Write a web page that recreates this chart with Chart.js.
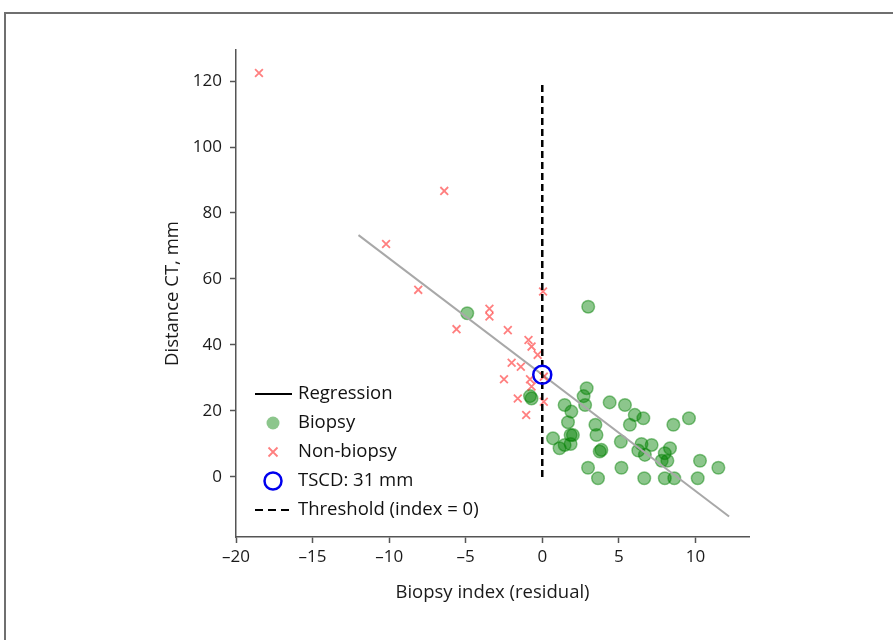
<!DOCTYPE html>
<html>
<head>
<meta charset="utf-8">
<script src="https://cdn.jsdelivr.net/npm/chart.js@4"></script>
<style>
  html, body { margin: 0; padding: 0; background: #fff; }
  #wrap { position: relative; width: 893px; height: 640px; overflow: hidden; }
  #frame {
    position: absolute; left: 4px; top: 12px; width: 1000px; height: 800px;
    border-left: 2px solid #6f6f6f; border-top: 2px solid #6f6f6f;
  }
  canvas { position: absolute; left: 0; top: 0; }
</style>
</head>
<body>
<div id="wrap">
  <div id="frame"></div>
  <canvas id="chart" width="893" height="640"></canvas>
</div>
<script>
const xTicks = [-20, -15, -10, -5, 0, 5, 10];
const yTicks = [0, 20, 40, 60, 80, 100, 120];

// Biopsy (green circles)
const bioX = [-4.9, -0.8, -0.7, 3.0, 2.9, 2.7, 2.8, 4.4, 5.4, 1.46, 1.9, 1.68, 0.7, 1.13, 1.85,
  2.0, 1.46, 1.85, 3.47, 3.54, 3.75, 3.86, 2.99, 3.64, 5.13, 5.17, 6.04, 6.6, 5.72, 6.48,
  7.14, 6.27, 6.7, 6.66, 8.56, 9.58, 8.34, 8.0, 7.8, 8.17, 8.0, 8.62, 10.3, 10.15, 11.5];
const bioY = [49.6, 24.5, 23.8, 51.6, 26.9, 24.5, 21.8, 22.6, 21.8, 21.8, 19.8, 16.6, 11.7, 8.7, 12.7,
  12.7, 9.7, 10.0, 15.8, 12.7, 7.7, 8.2, 2.8, -0.4, 10.7, 2.8, 18.8, 17.8, 15.8, 10.0,
  9.7, 8.0, 6.7, -0.4, 15.8, 17.8, 8.7, 7.2, 4.9, 4.9, -0.4, -0.4, 4.9, -0.4, 2.8];

// Non-biopsy (red crosses)
const nonX = [-18.5, -6.4, -10.2, -8.1, 0.05, -5.6, -3.45, -3.45, -2.25, -0.9, -0.7, -0.3,
  -2.0, -1.4, -2.5, -0.8, -0.7, 0.1, -1.6, 0.1, -1.05];
const nonY = [122.4, 86.7, 70.6, 56.7, 56.2, 44.8, 51, 48.6, 44.5, 41.5, 39.5, 37,
  34.6, 33.4, 29.6, 29.6, 27.4, 30.4, 23.8, 22.8, 18.8];

// regression line end points and TSCD point
const regX = [-12, 12.2];
const regY = [73.3, -12.0];
const tscdX = [0];
const tscdY = [31];
const threshX = [0, 0];
const threshY = [0, 120];

const pts = (xs, ys) => xs.map((x, i) => ({ x: x, y: ys[i] }));
const FONT = "'Open Sans', 'Noto Sans', sans-serif";
const dash = (v) => (v < 0 ? "\u2013" + Math.abs(v) : String(v));

const legendItems = [
  { text: "Regression", kind: "line" },
  { text: "Biopsy", kind: "bio" },
  { text: "Non-biopsy", kind: "cross" },
  { text: "TSCD: 31 mm", kind: "ring" },
  { text: "Threshold (index = 0)", kind: "dash" },
];

const insideLegend = {
  id: "insideLegend",
  afterDraw(chart) {
    const ctx = chart.ctx;
    const a = chart.chartArea;
    const x0 = a.left + 19, x1 = a.left + 56, cx = a.left + 37, tx = a.left + 62;
    ctx.save();
    ctx.font = "18.5px " + FONT;
    ctx.textBaseline = "middle";
    legendItems.forEach((it, i) => {
      const y = a.bottom - 143 + i * 29;
      ctx.setLineDash([]);
      if (it.kind === "line" || it.kind === "dash") {
        ctx.strokeStyle = "#000";
        ctx.lineWidth = 2;
        if (it.kind === "dash") ctx.setLineDash([8, 5]);
        ctx.beginPath(); ctx.moveTo(x0, y); ctx.lineTo(x1, y); ctx.stroke();
      } else if (it.kind === "bio") {
        ctx.fillStyle = "rgba(0,128,0,0.45)";
        ctx.beginPath(); ctx.arc(cx, y, 6.5, 0, Math.PI * 2); ctx.fill();
      } else if (it.kind === "cross") {
        ctx.strokeStyle = "rgba(255,0,0,0.5)";
        ctx.lineWidth = 1.8;
        ctx.beginPath();
        ctx.moveTo(cx - 4.5, y - 4.5); ctx.lineTo(cx + 4.5, y + 4.5);
        ctx.moveTo(cx + 4.5, y - 4.5); ctx.lineTo(cx - 4.5, y + 4.5);
        ctx.stroke();
      } else if (it.kind === "ring") {
        ctx.strokeStyle = "#0000ee";
        ctx.lineWidth = 2.5;
        ctx.beginPath(); ctx.arc(cx, y, 8.5, 0, Math.PI * 2); ctx.stroke();
      }
      ctx.fillStyle = "#111";
      ctx.fillText(it.text, tx, y);
    });
    ctx.restore();
  },
};

new Chart("chart", {
  type: "scatter",
  data: {
    datasets: [
      {
        label: "TSCD: 31 mm",
        data: pts(tscdX, tscdY),
        pointStyle: "circle",
        pointRadius: 9,
        borderColor: "#0000ee",
        borderWidth: 2.5,
        backgroundColor: "rgba(0,0,0,0)",
        order: 0,
      },
      {
        label: "Threshold (index = 0)",
        type: "line",
        data: pts(threshX, threshY),
        borderColor: "#000",
        borderWidth: 2.5,
        borderDash: [7, 4],
        pointRadius: 0,
        fill: false,
        order: 1,
      },
      {
        label: "Non-biopsy",
        data: pts(nonX, nonY),
        pointStyle: "crossRot",
        pointRadius: 5.5,
        borderColor: "rgba(255,0,0,0.5)",
        borderWidth: 1.8,
        backgroundColor: "rgba(255,0,0,0.5)",
        order: 2,
      },
      {
        label: "Regression",
        type: "line",
        data: pts(regX, regY),
        borderColor: "#a8a8a8",
        borderWidth: 2,
        pointRadius: 0,
        fill: false,
        order: 3,
      },
      {
        label: "Biopsy",
        data: pts(bioX, bioY),
        pointStyle: "circle",
        pointRadius: 6.3,
        borderColor: "rgba(0,128,0,0.45)",
        borderWidth: 1.5,
        backgroundColor: "rgba(0,128,0,0.45)",
        order: 4,
      },
    ],
  },
  options: {
    responsive: false,
    devicePixelRatio: 1,
    animation: false,
    layout: { padding: { left: 158, top: 50, right: 144, bottom: 32 } },
    plugins: {
      legend: { display: false },
      tooltip: { enabled: false },
    },
    scales: {
      x: {
        type: "linear",
        min: -20,
        max: 13.5,
        afterFit: (s) => { s.height = 71; },
        afterBuildTicks: (s) => { s.ticks = xTicks.map((v) => ({ value: v })); },
        grid: { drawOnChartArea: false, tickLength: 6, color: "#555", tickWidth: 1.5 },
        border: { color: "#555", width: 1.5 },
        ticks: { color: "#1a1a1a", padding: 4, font: { family: FONT, size: 17 }, callback: dash },
        title: { display: true, text: "Biopsy index (residual)", color: "#1a1a1a", font: { family: FONT, size: 18.5 } },
      },
      y: {
        type: "linear",
        min: -18.2,
        max: 129.4,
        afterFit: (s) => { s.width = 78; },
        afterBuildTicks: (s) => { s.ticks = yTicks.map((v) => ({ value: v })); },
        grid: { drawOnChartArea: false, tickLength: 6, color: "#555", tickWidth: 1.5 },
        border: { color: "#555", width: 1.5 },
        ticks: { color: "#1a1a1a", padding: 8, font: { family: FONT, size: 17 }, callback: dash },
        title: { display: true, text: "Distance CT, mm", color: "#1a1a1a", font: { family: FONT, size: 18.5 } },
      },
    },
  },
  plugins: [insideLegend],
});
</script>
</body>
</html>
